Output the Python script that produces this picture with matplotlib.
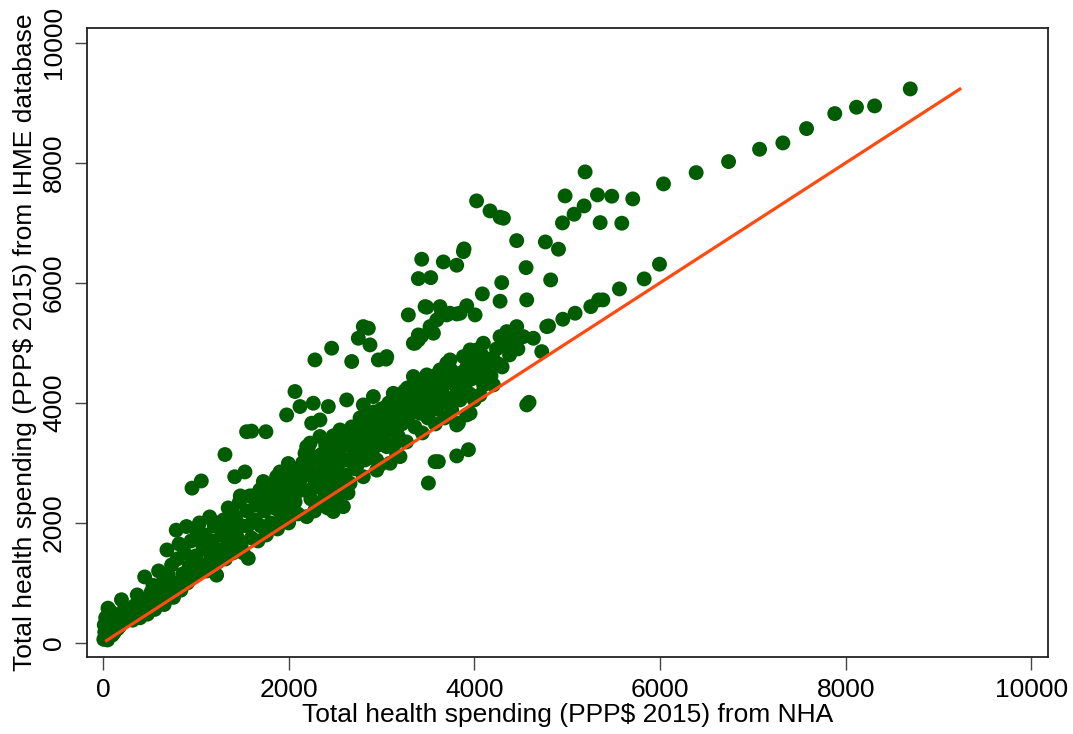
import matplotlib
matplotlib.use("Agg")
import matplotlib.pyplot as plt

plt.rcParams['font.family'] = ['Liberation Sans', 'DejaVu Sans']

# (NHA, IHME) pairs
points = [
    # near the origin
    (10, 60), (30, 90), (50, 50), (70, 110), (20, 180), (45, 150), (80, 200), (100, 130),
    (120, 170), (15, 300), (40, 260), (65, 320), (90, 280), (110, 350), (140, 300), (160, 240),
    (180, 280), (30, 420), (60, 480), (55, 580), (85, 520), (120, 460), (150, 400), (180, 380),
    (200, 330), (210, 430), (240, 370), (260, 460), (200, 720), (230, 560), (280, 420), (300, 520),
    # 300 - 1000
    (320, 380), (350, 450), (340, 620), (370, 800), (400, 420), (420, 560), (440, 700), (450, 1100),
    (480, 480), (500, 620), (520, 850), (540, 960), (560, 560), (580, 700), (600, 1200), (620, 820),
    (640, 1000), (660, 640), (680, 760), (690, 1550), (700, 1150), (720, 900), (740, 1300), (760, 760),
    (780, 1000), (790, 1880), (800, 1400), (820, 1650), (840, 880), (860, 1150), (880, 1500), (900, 1940),
    (910, 1000), (930, 1280), (950, 1700), (960, 2580), (980, 1100), (1000, 1450), (1000, 1900), (1060, 2700),
    # 1000 - 2000
    (1020, 1150), (1040, 2000), (1060, 1300), (1080, 1600), (1100, 1800), (1120, 1200), (1150, 2100),
    (1160, 1450), (1180, 1700), (1200, 1950), (1225, 1130), (1240, 1350), (1260, 1550), (1280, 1800),
    (1300, 2050), (1315, 3140), (1320, 1400), (1350, 2250), (1360, 1650), (1380, 1900), (1400, 1500),
    (1420, 2770), (1430, 2100), (1450, 1750), (1470, 2350), (1490, 1600), (1500, 1950), (1512, 1500),
    (1530, 2850), (1548, 3520), (1550, 2200), (1566, 1410), (1580, 2450), (1600, 1750), (1602, 3530),
    (1620, 2050), (1650, 2300), (1670, 1700), (1690, 2550), (1700, 1950), (1728, 2690), (1740, 2200),
    (1756, 3520), (1760, 1800), (1790, 2450), (1810, 2000), (1830, 2650), (1850, 2250), (1871, 2770),
    (1880, 1900), (1907, 2850), (1920, 2400), (1940, 2100), (1960, 2650), (1979, 3800), (1997, 2990),
    (2000, 2000), (2020, 2250), (2050, 2800), (2069, 4190),
    (1050, 1700), (1130, 1550), (1190, 1350), (1250, 2000), (1330, 1750), (1390, 2200), (1440, 1900),
    (1480, 2450), (1560, 1950), (1610, 2450), (1640, 2050), (1710, 2350), (1770, 2600), (1820, 2350),
    (1860, 2500), (1900, 2200), (1950, 2800), (1980, 2450),
    # 2000 - 3000
    (2123, 3940), (2266, 3995), (2249, 3662), (2338, 3717), (2428, 3940), (2626, 4050), (2805, 3967),
    (2913, 4106), (2284, 4717), (2464, 4912), (2680, 4690), (2751, 5078), (2805, 5272), (2859, 5245),
    (2877, 4967), (2967, 4717), (3057, 4772), (2195, 2105), (2482, 2190), (2482, 2328), (2590, 2272),
    (2518, 2550), (2841, 3078),
    (2080, 2500), (2100, 2150), (2120, 2700), (2150, 3000), (2177, 3160), (2195, 3270), (2213, 3272),
    (2231, 3330), (2240, 2400), (2260, 2850), (2280, 2200), (2300, 3100), (2320, 2600), (2338, 3440),
    (2350, 2350), (2370, 2900), (2400, 3300), (2420, 2250), (2440, 2700), (2460, 3100), (2480, 3450),
    (2500, 2900), (2520, 2400), (2554, 3550), (2560, 3250), (2580, 2650), (2600, 3050), (2620, 3400),
    (2640, 2500), (2662, 2660), (2680, 3600), (2700, 3200), (2720, 2900), (2733, 2940), (2750, 3500),
    (2770, 3750), (2790, 3300), (2805, 2770), (2823, 3050), (2841, 3717), (2860, 3450), (2880, 3600),
    (2900, 3200), (2920, 3850), (2949, 2880), (2949, 3050), (2960, 3500), (2980, 3700), (2985, 2970),
    (3000, 3900),
    (2030, 2600), (2070, 2350), (2110, 2900), (2160, 2550), (2200, 2800), (2230, 3000), (2270, 2600),
    (2310, 2800), (2360, 3150), (2390, 2500), (2430, 3000), (2470, 2800), (2510, 3250), (2540, 3000),
    (2570, 3400), (2610, 2800), (2650, 3300), (2690, 3000), (2710, 3450), (2740, 3150), (2780, 3550),
    (2820, 3350), (2850, 3200), (2870, 3800), (2890, 3400), (2930, 3600), (2970, 3300),
    # 3000 - 4000
    (3290, 5467), (3344, 4995), (3362, 4995), (3398, 5050), (3398, 5133), (3433, 5117), (3470, 5605),
    (3488, 5595), (3524, 5272), (3560, 5162), (3596, 5383), (3631, 5605), (3649, 5522), (3703, 5467),
    (3739, 5495), (3811, 5483), (3847, 5495), (3919, 5620), (4009, 5467), (3434, 6395), (3398, 6072),
    (3531, 6088), (3667, 6350), (3811, 6295), (3883, 6522), (3890, 6567), (4025, 7367), (4087, 5817),
    (3050, 4730), (3506, 2665), (3578, 3022), (3613, 3022), (3811, 3117), (3937, 3220), (3093, 2995),
    (3164, 3133), (3200, 3105),
    (3020, 3400), (3040, 3700), (3057, 3272), (3080, 4000), (3100, 3550), (3128, 4160), (3150, 3800),
    (3164, 3355), (3180, 3450), (3200, 3950), (3220, 3650), (3250, 4200), (3270, 3350), (3300, 3800),
    (3320, 4050), (3344, 4440), (3360, 3600), (3380, 3950), (3400, 4300), (3416, 3828), (3440, 3500),
    (3460, 4100), (3488, 4467), (3500, 3750), (3520, 4000), (3550, 4350), (3580, 3650), (3600, 3900),
    (3631, 4550), (3631, 3995), (3650, 4200), (3680, 3750), (3703, 4660), (3720, 4400), (3739, 4717),
    (3757, 3883), (3780, 4100), (3811, 3633), (3829, 3662), (3847, 4050), (3860, 4500), (3883, 4772),
    (3900, 4250), (3919, 3800), (3955, 3828), (3955, 4883), (3970, 4400), (4000, 4050),
    (3010, 3600), (3060, 3950), (3110, 3750), (3140, 3550), (3190, 4050), (3240, 3800), (3280, 4250),
    (3330, 3900), (3370, 4200), (3420, 4050), (3450, 3900), (3480, 4250), (3540, 4150), (3570, 4450),
    (3620, 4300), (3660, 4050), (3700, 4350), (3750, 4550), (3790, 4300), (3830, 4400), (3870, 4100),
    (3920, 4600), (3950, 4150),
    # 4000 - 5000
    (4026, 4883), (4050, 4600), (4062, 4133), (4098, 4995), (4100, 4300), (4150, 4700), (4180, 4450),
    (4206, 4300), (4240, 4900), (4278, 5105), (4300, 4600), (4350, 5188), (4380, 4800), (4420, 5000),
    (4457, 5272), (4470, 4900), (4529, 5105), (4565, 3967), (4590, 4010), (4637, 5078), (4727, 4855),
    (4781, 5272), (4800, 5283), (4954, 5395), (5086, 5495),
    (4000, 4700), (4040, 4450), (4080, 4800), (4120, 4550), (4200, 4750), (4260, 4650), (4320, 4950),
    (4400, 5100),
    (4170, 7200), (4278, 7095), (4314, 7078), (4457, 6705), (4766, 6683), (4907, 6562), (4558, 6255),
    (4823, 6050), (4296, 6005), (4278, 5695), (4565, 5717),
    # above 5000
    (4978, 7450), (5327, 7467), (5481, 7445), (5707, 7400), (5183, 7283), (5075, 7145), (4950, 7000),
    (5356, 7005), (5589, 6995), (5194, 7850), (5255, 5605), (5340, 5717), (5385, 5717), (5564, 5900),
    (5830, 6067), (5995, 6312), (6038, 7650), (6390, 7838), (6739, 8022), (7073, 8228), (7324, 8333),
    (7579, 8572), (7883, 8822), (8117, 8928), (8312, 8950), (8696, 9233),
]
nha = [p[0] for p in points]
ihme = [p[1] for p in points]

# 45-degree reference line
line_x = [40, 9230]
line_y = [40, 9230]

xticks = [0, 2000, 4000, 6000, 8000, 10000]
yticks = [0, 2000, 4000, 6000, 8000, 10000]

fig = plt.figure(figsize=(10.73, 7.34), dpi=100)
ax = fig.add_axes([0.081, 0.105, 0.896, 0.857])

ax.scatter(nha, ihme, s=115, color='#005c00', edgecolors='none', zorder=2)
ax.plot(line_x, line_y, color='#ff4a10', linewidth=2.3, zorder=3)

ax.set_xlim(-172, 10183)
ax.set_ylim(-233, 10250)
ax.set_xticks(xticks)
ax.set_yticks(yticks)
ax.tick_params(direction='out', length=9, width=1, color='#444444', labelsize=19, pad=6)
for lbl in ax.get_yticklabels():
    lbl.set_rotation(90)
    lbl.set_va('center')

for sp in ax.spines.values():
    sp.set_linewidth(1.3)
    sp.set_color('#222222')

ax.set_xlabel("Total health spending (PPP$ 2015) from NHA", fontsize=19, labelpad=1)
ax.set_ylabel("Total health spending (PPP$ 2015) from IHME database", fontsize=19, labelpad=4)

fig.savefig("out.png", dpi=100, facecolor='white')
